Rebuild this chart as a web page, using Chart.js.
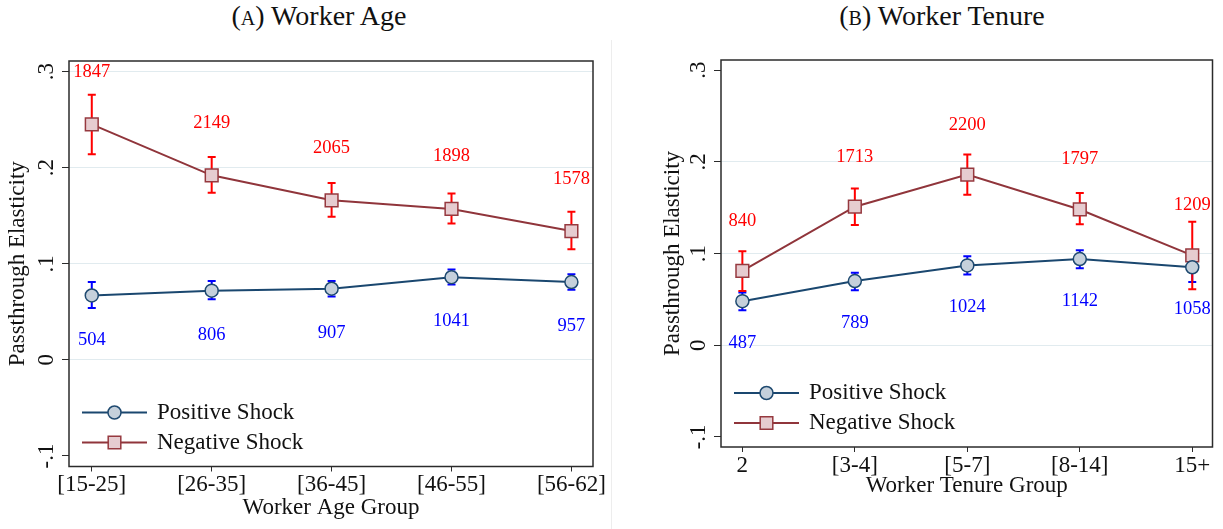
<!DOCTYPE html>
<html lang="en">
<head>
  <meta charset="UTF-8">
  <title>Passthrough Elasticity by Worker Age and Tenure</title>
  <script src="https://cdn.jsdelivr.net/npm/chart.js"></script>
  <style>
    body { margin: 0; background: #ffffff; width: 1223px; height: 529px; position: relative; overflow: hidden; font-family: 'Liberation Serif', serif; }
    .panel-title { position: absolute; top: 0; width: 260px; text-align: center; font-size: 28px; line-height: 32px; color: #111; }
    .sc { font-variant: small-caps; }
    .divider { position: absolute; left: 611px; top: 40px; width: 1px; height: 489px; background: #ededed; }
    canvas { position: absolute; top: 0; }
  </style>
</head>
<body>
  <div class="panel-title" style="left:189px;">(<span class="sc">a</span>) Worker Age</div>
  <div class="panel-title" style="left:812px;">(<span class="sc">b</span>) Worker Tenure</div>
  <div class="divider"></div>
  <canvas id="ageChart" width="612" height="529" style="left:0;"></canvas>
  <canvas id="tenureChart" width="611" height="529" style="left:612px;"></canvas>

  <script>
    // y axis
    const yTicks = [-0.1, 0, 0.1, 0.2, 0.3];
    const yTickLabels = ['-.1', '0', '.1', '.2', '.3'];

    // panel A: worker age
    const ageGroups = ['[15-25]', '[26-35]', '[36-45]', '[46-55]', '[56-62]'];
    const agePos   = [0.067, 0.072, 0.074, 0.086, 0.081];
    const agePosLo = [0.054, 0.063, 0.066, 0.0785, 0.073];
    const agePosHi = [0.081, 0.082, 0.082, 0.094, 0.089];
    const agePosN  = [504, 806, 907, 1041, 957];
    const ageNeg   = [0.245, 0.192, 0.166, 0.157, 0.134];
    const ageNegLo = [0.214, 0.174, 0.149, 0.142, 0.115];
    const ageNegHi = [0.276, 0.211, 0.184, 0.173, 0.154];
    const ageNegN  = [1847, 2149, 2065, 1898, 1578];

    // panel B: worker tenure
    const tenureGroups = ['2', '[3-4]', '[5-7]', '[8-14]', '15+'];
    const tenPos   = [0.048, 0.070, 0.087, 0.094, 0.085];
    const tenPosLo = [0.038, 0.060, 0.077, 0.084, 0.069];
    const tenPosHi = [0.0575, 0.079, 0.097, 0.1035, 0.101];
    const tenPosN  = [487, 789, 1024, 1142, 1058];
    const tenNeg   = [0.081, 0.151, 0.186, 0.148, 0.098];
    const tenNegLo = [0.059, 0.131, 0.164, 0.132, 0.061];
    const tenNegHi = [0.1025, 0.171, 0.208, 0.166, 0.1345];
    const tenNegN  = [840, 1713, 2200, 1797, 1209];

    Chart.defaults.font.family = "'Liberation Serif', 'Times New Roman', serif";
    Chart.defaults.color = '#111';

    const FONT = "'Liberation Serif', 'Times New Roman', serif";

    // confidence intervals behind the markers
    const errorBars = {
      id: 'errorBars',
      beforeDatasetsDraw(chart) {
        const { ctx, scales: { x, y } } = chart;
        ctx.save();
        ctx.lineWidth = 2;
        chart.data.datasets.forEach(ds => {
          ctx.strokeStyle = ds.ciColor;
          ds.lo.forEach((lo, i) => {
            const px = x.getPixelForValue(i + 1);
            const top = y.getPixelForValue(ds.hi[i]);
            const bot = y.getPixelForValue(lo);
            ctx.beginPath();
            ctx.moveTo(px, top); ctx.lineTo(px, bot);
            ctx.moveTo(px - 4, top); ctx.lineTo(px + 4, top);
            ctx.moveTo(px - 4, bot); ctx.lineTo(px + 4, bot);
            ctx.stroke();
          });
        });
        ctx.restore();
      },
      // observation counts above / below each point
      afterDatasetsDraw(chart) {
        const { ctx, scales: { x, y } } = chart;
        ctx.save();
        ctx.font = '18.5px ' + FONT;
        ctx.textAlign = 'center';
        ctx.textBaseline = 'middle';
        chart.data.datasets.forEach(ds => {
          ctx.fillStyle = ds.ciColor;
          ds.counts.forEach((n, i) => {
            const v = ds.data[i].y + ds.countShift;
            ctx.fillText(String(n), x.getPixelForValue(i + 1), y.getPixelForValue(v));
          });
        });
        ctx.restore();
      }
    };

    // rotated y tick labels, plot frame and inset legend
    const frame = {
      id: 'frame',
      afterDraw(chart) {
        const { ctx, chartArea: a, scales: { y } } = chart;
        ctx.save();
        ctx.font = '23px ' + FONT;
        ctx.fillStyle = '#111';
        ctx.textAlign = 'center';
        ctx.textBaseline = 'middle';
        yTicks.forEach((v, i) => {
          ctx.save();
          ctx.translate(a.left - 22, y.getPixelForValue(v));
          ctx.rotate(-Math.PI / 2);
          ctx.fillText(yTickLabels[i], 0, 0);
          ctx.restore();
        });

        ctx.strokeStyle = '#2b2b2b';
        ctx.lineWidth = 1.5;
        ctx.strokeRect(a.left, a.top, a.right - a.left, a.bottom - a.top);

        const rows = [a.bottom - 54, a.bottom - 24];
        chart.data.datasets.forEach((ds, i) => {
          const ly = rows[i];
          const x0 = a.left + 13, x1 = a.left + 78, xm = (x0 + x1) / 2;
          ctx.strokeStyle = ds.borderColor;
          ctx.lineWidth = 2;
          ctx.beginPath(); ctx.moveTo(x0, ly); ctx.lineTo(x1, ly); ctx.stroke();
          ctx.fillStyle = ds.pointBackgroundColor;
          ctx.strokeStyle = ds.pointBorderColor;
          ctx.lineWidth = 1.5;
          ctx.beginPath();
          if (ds.pointStyle === 'rect') ctx.rect(xm - 6.3, ly - 6.3, 12.6, 12.6);
          else ctx.arc(xm, ly, 6.5, 0, Math.PI * 2);
          ctx.fill(); ctx.stroke();
          ctx.fillStyle = '#111';
          ctx.textAlign = 'left';
          ctx.font = '23px ' + FONT;
          ctx.fillText(ds.label, x1 + 10, ly);
        });
        ctx.restore();
      }
    };

    function series(vals) {
      return vals.map((v, i) => ({ x: i + 1, y: v }));
    }

    function buildChart(id, p) {
      return new Chart(document.getElementById(id), {
        type: 'line',
        data: {
          datasets: [
            {
              label: 'Positive Shock', data: series(p.pos), lo: p.posLo, hi: p.posHi,
              counts: p.posN, countShift: -0.046, ciColor: '#0000ff',
              borderColor: '#1a476f', borderWidth: 2,
              pointStyle: 'circle', pointRadius: 6.5,
              pointBackgroundColor: '#c5d0db', pointBorderColor: '#1f4a70', pointBorderWidth: 1.5
            },
            {
              label: 'Negative Shock', data: series(p.neg), lo: p.negLo, hi: p.negHi,
              counts: p.negN, countShift: 0.0545, ciColor: '#ff0000',
              borderColor: '#90353b', borderWidth: 2,
              pointStyle: 'rect', pointRadius: 9,
              pointBackgroundColor: '#e6ccd0', pointBorderColor: '#96393f', pointBorderWidth: 1.5
            }
          ]
        },
        options: {
          responsive: false,
          animation: false,
          events: [],
          layout: { padding: p.padding },
          plugins: { legend: { display: false }, tooltip: { enabled: false } },
          scales: {
            x: {
              type: 'linear', min: 0.81, max: 5.18,
              afterBuildTicks: s => { s.ticks = p.groups.map((_, i) => ({ value: i + 1 })); },
              afterFit: s => { s.height = p.xHeight; },
              ticks: { callback: v => p.groups[v - 1], color: '#111', font: { size: 23 }, padding: 0, maxRotation: 0, autoSkip: false },
              grid: { drawOnChartArea: false, tickLength: 5, tickColor: '#2b2b2b', tickWidth: 1 },
              border: { display: false },
              title: { display: true, text: p.xTitle, color: '#111', font: { size: 23 }, padding: { top: 0, bottom: p.xTitlePad } }
            },
            y: {
              min: -0.111, max: 0.311,
              afterBuildTicks: s => { s.ticks = yTicks.map(v => ({ value: v })); },
              afterFit: s => { s.width = 69; },
              ticks: { display: false },
              grid: {
                color: c => p.gridAt.some(g => Math.abs(g - c.tick.value) < 1e-9) ? '#e1ebef' : 'rgba(0,0,0,0)',
                lineWidth: 1, tickLength: 7, tickColor: '#2b2b2b', tickWidth: 1
              },
              border: { display: false },
              title: { display: true, text: 'Passthrough Elasticity', color: '#111', font: { size: 23 }, padding: { top: p.yTitlePad, bottom: 0 } }
            }
          }
        },
        plugins: [errorBars, frame]
      });
    }

    buildChart('ageChart', {
      groups: ageGroups, xTitle: 'Worker Age Group',
      pos: agePos, posLo: agePosLo, posHi: agePosHi, posN: agePosN,
      neg: ageNeg, negLo: ageNegLo, negHi: ageNegHi, negN: ageNegN,
      padding: { top: 61, right: 19, bottom: 0, left: 0 },
      xHeight: 62.5, xTitlePad: 7, yTitlePad: 4,
      gridAt: [0, 0.1, 0.2, 0.3]
    });

    buildChart('tenureChart', {
      groups: tenureGroups, xTitle: 'Worker Tenure Group',
      pos: tenPos, posLo: tenPosLo, posHi: tenPosHi, posN: tenPosN,
      neg: tenNeg, negLo: tenNegLo, negHi: tenNegHi, negN: tenNegN,
      padding: { top: 60, right: 5, bottom: 20, left: 40 },
      xHeight: 62, xTitlePad: 9, yTitlePad: 7,
      gridAt: [0, 0.1, 0.2]
    });
  </script>
</body>
</html>
